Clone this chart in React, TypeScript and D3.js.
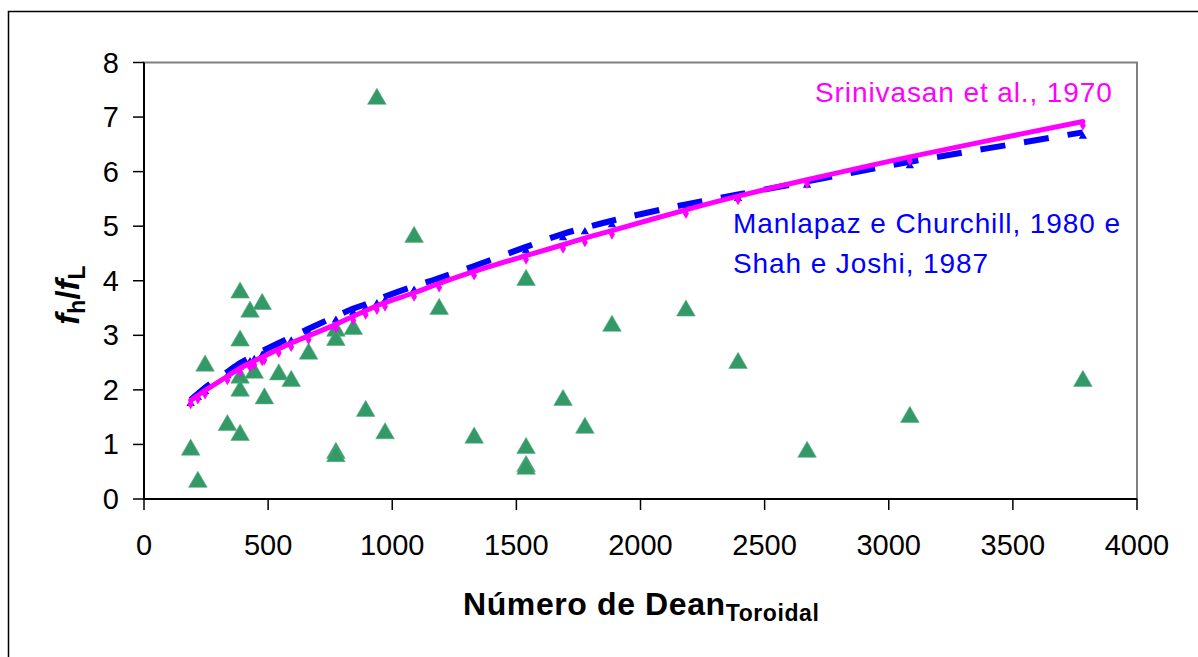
import React from "react";
import * as d3 from "d3";

// Experimental points (Dean number, fh/fL)
const expDean = [188, 217, 246, 336, 387, 387, 387, 387, 387, 427, 476, 444, 485, 543, 593, 663, 773, 773, 773, 773, 843, 893, 938, 971, 1088, 1189, 1330, 1539, 1539, 1539, 1539, 1688, 1776, 1885, 2183, 2393, 2671, 3085, 3782];
const expRatio = [0.92, 0.33, 2.46, 1.37, 3.80, 2.92, 2.24, 2.0, 1.19, 3.45, 3.59, 2.33, 1.86, 2.30, 2.18, 2.68, 3.10, 2.93, 0.86, 0.80, 3.13, 1.63, 7.35, 1.22, 4.82, 3.50, 1.14, 4.03, 0.95, 0.62, 0.57, 1.83, 1.32, 3.19, 3.47, 2.51, 0.88, 1.52, 2.18];

// Correlation curves evaluated at the experimental Dean numbers
const curveDean = [188, 217, 246, 336, 387, 427, 444, 476, 485, 543, 593, 663, 773, 843, 893, 938, 971, 1088, 1189, 1330, 1539, 1688, 1776, 1885, 2183, 2393, 2671, 3085, 3782];
const srinivasan = [1.81, 1.90, 1.99, 2.25, 2.40, 2.49, 2.53, 2.60, 2.62, 2.75, 2.86, 2.99, 3.20, 3.35, 3.45, 3.54, 3.60, 3.78, 3.95, 4.17, 4.46, 4.66, 4.78, 4.92, 5.30, 5.55, 5.85, 6.27, 6.92];
const manlapaz = [1.82, 1.93, 2.04, 2.33, 2.49, 2.59, 2.63, 2.71, 2.73, 2.86, 2.97, 3.12, 3.35, 3.49, 3.57, 3.65, 3.71, 3.90, 4.05, 4.27, 4.62, 4.86, 4.97, 5.10, 5.40, 5.58, 5.82, 6.18, 6.72];

const xTicks = [0, 500, 1000, 1500, 2000, 2500, 3000, 3500, 4000];
const yTicks = [0, 1, 2, 3, 4, 5, 6, 7, 8];

const labelSrinivasan = "Srinivasan et al., 1970";
const labelManlapaz1 = "Manlapaz e Churchill, 1980 e";
const labelManlapaz2 = "Shah e Joshi, 1987";

const FONT = "'Liberation Sans', Arial, sans-serif";

export default function App() {
  const W = 1198, H = 657;
  const x = d3.scaleLinear().domain([0, 4000]).range([144, 1137]);
  const y = d3.scaleLinear().domain([0, 8]).range([499, 62.5]);

  const pinkPts: [number, number][] = curveDean.map((d, i) => [x(d), y(srinivasan[i])]);
  const bluePts: [number, number][] = curveDean.map((d, i) => [x(d), y(manlapaz[i])]);
  const line = d3.line().curve(d3.curveCatmullRom.alpha(0.5));

  const tri = d3.symbol().type(d3.symbolTriangle).size(150)() as string;
  const smallTri = d3.symbol().type(d3.symbolTriangle).size(30)() as string;
  const diamond = d3.symbol().type(d3.symbolDiamond).size(30)() as string;

  return (
    <svg width={W} height={H} style={{ position: "absolute", left: 0, top: 0, display: "block" }}>
      <rect x={0} y={0} width={W} height={H} fill="#fff" />
      <rect x={8.5} y={11.5} width={1300} height={800} fill="none" stroke="#000" strokeWidth={1.5} />
      {/* plot area border */}
      <rect x={144} y={62.5} width={993} height={436.5} fill="none" stroke="#808080" strokeWidth={2} />

      {/* experimental triangles */}
      {expDean.map((d, i) => (
        <path key={"t" + i} d={tri} transform={`translate(${x(d)},${y(expRatio[i]) + 1})`} fill="#339966" stroke="#5aae84" strokeWidth={0.6} />
      ))}

      {/* Manlapaz curve */}
      <path d={line(bluePts) as string} fill="none" stroke="#0000ff" strokeWidth={6} strokeDasharray="25,19" />
      {bluePts.map((p, i) => (
        <path key={"b" + i} d={smallTri} transform={`translate(${p[0]},${p[1] + 4})`} fill="#0000ff" />
      ))}
      {/* Srinivasan curve */}
      <path d={line(pinkPts) as string} fill="none" stroke="#ff00ff" strokeWidth={5} strokeLinecap="round" />
      {pinkPts.map((p, i) => (
        <path key={"p" + i} d={diamond} transform={`translate(${p[0]},${p[1] + 4})`} fill="#ff00ff" />
      ))}

      {/* axes */}
      <line x1={144} x2={144} y1={62.5} y2={499} stroke="#000" strokeWidth={2} />
      <line x1={144} x2={1137} y1={499} y2={499} stroke="#000" strokeWidth={2} />
      {yTicks.map((t) => (
        <g key={"yt" + t}>
          <line x1={133} x2={144} y1={y(t)} y2={y(t)} stroke="#000" strokeWidth={1.5} />
          <text x={119} y={y(t) + 10} textAnchor="end" fontFamily={FONT} fontSize={29}>{t}</text>
        </g>
      ))}
      {xTicks.map((t) => (
        <g key={"xt" + t}>
          <line x1={x(t)} x2={x(t)} y1={499} y2={510} stroke="#000" strokeWidth={1.5} />
          <text x={x(t)} y={555} textAnchor="middle" fontFamily={FONT} fontSize={29}>{t}</text>
        </g>
      ))}

      {/* series labels */}
      <text x={815} y={102} fontFamily={FONT} fontSize={28} letterSpacing={0.9} fill="#ff00ff">{labelSrinivasan}</text>
      <text x={733} y={233} fontFamily={FONT} fontSize={28} letterSpacing={0.9} fill="#0000ff">{labelManlapaz1}</text>
      <text x={733} y={273} fontFamily={FONT} fontSize={28} letterSpacing={0.9} fill="#0000ff">{labelManlapaz2}</text>

      {/* x axis title */}
      <text x={463} y={615} fontFamily={FONT} fontSize={32} fontWeight="bold" letterSpacing={0.6}>
        Número de Dean
        <tspan fontSize={23} dy={6}>Toroidal</tspan>
      </text>

      {/* y axis title */}
      <text transform="translate(79,295) rotate(-90)" textAnchor="middle" fontFamily={FONT} fontSize={33} fontWeight="bold">
        <tspan fontStyle="italic">f</tspan>
        <tspan fontSize={23} dy={6}>h</tspan>
        <tspan dy={-6}>/</tspan>
        <tspan fontStyle="italic">f</tspan>
        <tspan fontSize={23} dy={6}>L</tspan>
      </text>
    </svg>
  );
}
